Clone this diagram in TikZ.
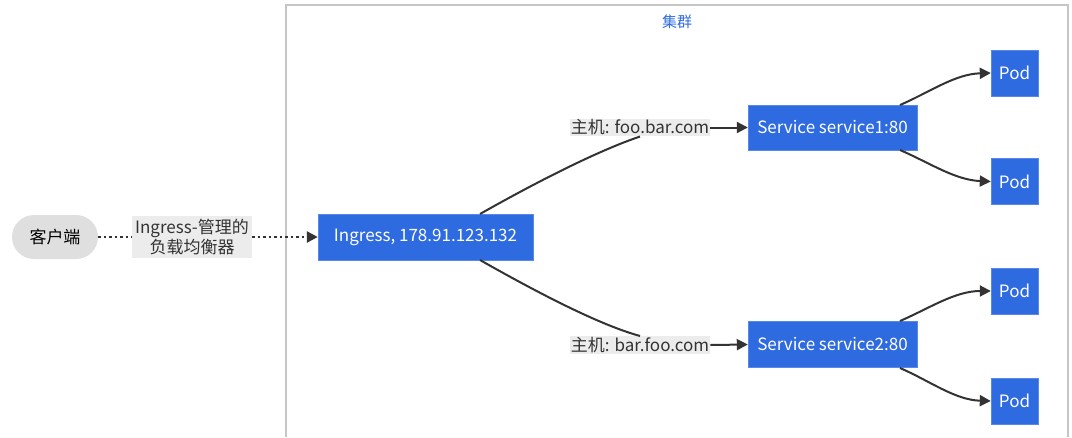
\documentclass[tikz,border=0pt]{standalone}
\usepackage{fontspec}
\setmainfont{Noto Sans CJK SC}
\usetikzlibrary{arrows.meta}
\definecolor{kblue}{HTML}{2F6BE0}
\definecolor{edge}{HTML}{333333}
\begin{document}
\begin{tikzpicture}[x=1pt,y=-1pt,
  box/.style={fill=kblue,draw=kblue!80!white,text=white,font=\fontsize{17}{20}\selectfont,inner sep=0pt},
  lbl/.style={fill=gray!15,text=black!80,font=\fontsize{17}{20}\selectfont,inner sep=1pt,align=center},
  arr/.style={draw=edge,line width=2pt,-{Triangle[length=11pt,width=11pt]}},
  dot/.style={draw=edge,line width=2.5pt,dash pattern=on 2.5pt off 3pt,-{Triangle[length=11pt,width=11pt]}}]
\useasboundingbox (0,0) rectangle (1072,437);
\draw[gray!45,line width=1.2pt] (286,437) -- (286,5) -- (1068,5) -- (1068,437);
\node[text=kblue,font=\fontsize{15}{18}\selectfont] (cl) at (677,22) {集群};
\node[fill=gray!25,rounded corners=22pt,minimum width=86pt,minimum height=44pt,font=\fontsize{17}{20}\selectfont] (client) at (55,237) {客户端};
\node[box,minimum width=215pt,minimum height=46pt] (ing) at (425.5,237) {Ingress, 178.91.123.132};
\node[box,minimum width=169pt,minimum height=45pt] (s1) at (832.5,127.5) {Service service1:80};
\node[box,minimum width=169pt,minimum height=46pt] (s2) at (832.5,344.5) {Service service2:80};
\foreach \n/\y in {p1/73,p2/181.5,p3/291,p4/401}
  \node[box,minimum width=47pt,minimum height=46pt] (\n) at (1014.5,\y) {Pod};
\node[lbl] (h1) at (640,127.5) {主机: foo.bar.com};
\node[lbl] (h2) at (640,345) {主机: bar.foo.com};
\draw[dot] (client.east) -- (ing.west);
\node[lbl,inner sep=3pt] (lb) at (192,237) {Ingress-管理的\\负载均衡器};
\draw[edge,line width=2pt] (480,214) .. controls (540,180) and (600,150) .. (h1.south);
\draw[arr] (h1.east) -- (s1.west);
\draw[edge,line width=2pt] (480,260) .. controls (540,294) and (600,325) .. (h2.north);
\draw[arr] (h2.east) -- (s2.west);
\draw[arr] (900,105) .. controls (930,92) and (955,74) .. (p1.west);
\draw[arr] (900,150) .. controls (930,163) and (955,180) .. (p2.west);
\draw[arr] (900,321) .. controls (930,308) and (955,291) .. (p3.west);
\draw[arr] (900,368) .. controls (930,381) and (955,400) .. (p4.west);
\end{tikzpicture}
\end{document}
